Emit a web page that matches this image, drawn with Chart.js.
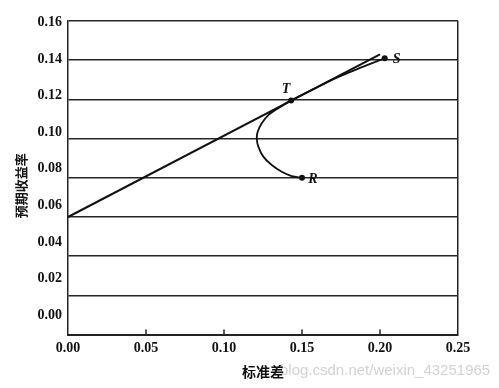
<!DOCTYPE html>
<html>
<head>
<meta charset="utf-8">
<script src="https://cdn.jsdelivr.net/npm/chart.js@4/dist/chart.umd.min.js"></script>
<style>
html,body{margin:0;padding:0;background:#fff;}
#wrap{width:499px;height:388px;position:relative;}
</style>
</head>
<body>
<div id="wrap"><canvas id="c" width="499" height="388"></canvas></div>
<script>
// ---- data ----
const xTicks = [0.00, 0.05, 0.10, 0.15, 0.20, 0.25];
const yTicks = [0.00, 0.02, 0.04, 0.06, 0.08, 0.10, 0.12, 0.14, 0.16];
const cmlX = [0.000, 0.200];
const cmlY = [0.060, 0.143];
const frontierX = [0.150, 0.1434, 0.137, 0.1306, 0.1252, 0.122, 0.121, 0.1216, 0.1242, 0.1284, 0.1348, 0.143, 0.158, 0.172, 0.188, 0.203];
const frontierY = [0.080, 0.0809, 0.0831, 0.0865, 0.0908, 0.0959, 0.1002, 0.1035, 0.1078, 0.1120, 0.1155, 0.1195, 0.1255, 0.1310, 0.1363, 0.1410];
const pointNames = ['T', 'R', 'S'];
const pointX = [0.143, 0.150, 0.203];
const pointY = [0.1195, 0.080, 0.141];
const xTitle = '标准差';
const yTitle = '预期收益率';
const watermark = 'blog.csdn.net/weixin_43251965';

const toXY = (xs, ys) => xs.map((v, i) => ({x: v, y: ys[i]}));
const labelOffsets = {T: [-5, -11], R: [11, 2], S: [12, 1]};

const overlay = {
  id: 'overlay',
  beforeDraw(chart) {
    const c = chart.ctx;
    c.save();
    c.fillStyle = '#d2d2d2';
    c.font = '15px "Liberation Sans", Arial, sans-serif';
    c.textAlign = 'left';
    c.textBaseline = 'middle';
    c.fillText(watermark, 280, 371);
    c.restore();
  },
  afterDatasetsDraw(chart) {
    const c = chart.ctx;
    const xs = chart.scales.x;
    const b = chart.chartArea.bottom;
    c.save();
    c.strokeStyle = '#222';
    c.lineWidth = 1.5;
    xTicks.forEach(v => {
      if (v > 0 && v < 0.25) {
        const px = xs.getPixelForValue(v);
        c.beginPath(); c.moveTo(px, b); c.lineTo(px, b - 5); c.stroke();
      }
    });
    const meta = chart.getDatasetMeta(2);
    c.fillStyle = '#111';
    c.font = 'italic bold 14px "Liberation Serif", "Times New Roman", serif';
    c.textAlign = 'center';
    c.textBaseline = 'middle';
    meta.data.forEach((el, i) => {
      const n = pointNames[i];
      const o = labelOffsets[n];
      c.fillText(n, el.x + o[0], el.y + o[1]);
    });
    c.restore();
  }
};

const serifBold = {family: '"Liberation Serif", "Times New Roman", serif', size: 14, weight: 'bold'};
const cjkBold = {family: '"Noto Sans CJK SC", sans-serif', size: 14, weight: 'bold'};

new Chart(document.getElementById('c'), {
  type: 'line',
  data: {
    datasets: [
      {data: toXY(cmlX, cmlY), borderColor: '#111', borderWidth: 2, pointRadius: 0, tension: 0},
      {data: toXY(frontierX, frontierY), borderColor: '#111', borderWidth: 1.8, pointRadius: 0, tension: 0.3},
      {data: toXY(pointX, pointY), showLine: false, pointRadius: 3, pointBackgroundColor: '#111', pointBorderColor: '#111', borderWidth: 0}
    ]
  },
  options: {
    responsive: false,
    animation: false,
    events: [],
    layout: {padding: {left: 0, right: 41, top: 21, bottom: 0}},
    plugins: {legend: {display: false}, tooltip: {enabled: false}, title: {display: false}},
    scales: {
      x: {
        type: 'linear', position: 'bottom', min: 0, max: 0.25,
        afterBuildTicks: s => { s.ticks = xTicks.map(v => ({value: v})); },
        afterFit: s => { s.height = 53.4; },
        ticks: {callback: v => v.toFixed(2), color: '#111', font: serifBold, padding: 5, maxRotation: 0, autoSkip: false},
        grid: {
          drawTicks: false,
          color: ctx => (ctx.tick && Math.abs(ctx.tick.value - 0.25) < 1e-9) ? '#222' : 'rgba(0,0,0,0)',
          lineWidth: 1.5
        },
        border: {display: true, color: '#222', width: 2},
        title: {display: true, text: xTitle, color: '#111', font: cjkBold, padding: {top: 0, bottom: 8}}
      },
      y: {
        type: 'linear', position: 'left', min: 0, max: 0.16, weight: 0,
        afterBuildTicks: s => { s.ticks = yTicks.map(v => ({value: v})); },
        afterFit: s => { s.width = 0; },
        ticks: {display: false},
        grid: {drawTicks: false, color: '#262626', lineWidth: 1.5},
        border: {display: true, color: '#222', width: 1.5}
      },
      yl: {
        type: 'linear', position: 'left', min: -0.0107, max: 0.1609, weight: 1,
        afterBuildTicks: s => { s.ticks = yTicks.map(v => ({value: v})); },
        afterFit: s => { s.width = 68; },
        ticks: {callback: v => v.toFixed(2), color: '#111', font: serifBold, padding: 6, autoSkip: false},
        grid: {display: false, drawTicks: false},
        border: {display: false},
        title: {display: true, text: yTitle + '\u3000 ', color: '#111', font: {family: '"Noto Sans CJK SC", sans-serif', size: 13, weight: 'bold'}, padding: {top: 13, bottom: 0}}
      }
    }
  },
  plugins: [overlay]
});
</script>
</body>
</html>
